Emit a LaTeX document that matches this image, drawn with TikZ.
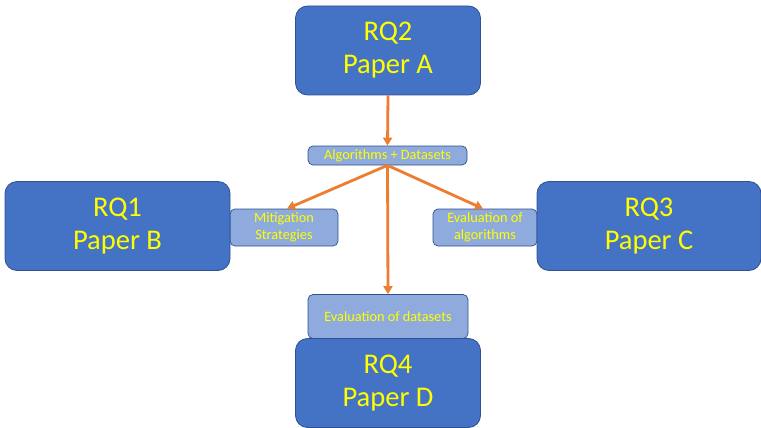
\documentclass[tikz,border=0pt]{standalone}
\usepackage{fontspec}
\setmainfont{Carlito}
\usetikzlibrary{arrows.meta}
\definecolor{bigfill}{HTML}{4472C4}
\definecolor{smallfill}{HTML}{8FAADC}
\definecolor{edgeblue}{HTML}{2F528F}
\definecolor{txtyellow}{HTML}{FFFF00}
\definecolor{arrorange}{HTML}{ED7D31}
\tikzset{
  bigbox/.style={draw=edgeblue, line width=0.8pt, fill=bigfill, rounded corners=12pt,
    inner sep=0pt, align=center, text=txtyellow,
    font=\fontsize{28.5}{33}\selectfont},
  smallbox/.style={draw=edgeblue, line width=0.7pt, fill=smallfill, rounded corners=5pt,
    inner sep=0pt, align=center, text=txtyellow,
    font=\fontsize{14.3}{16.5}\selectfont},
  conn/.style={draw=arrorange, line width=2.8pt, -{Triangle[length=8pt,width=9pt]}}
}
\begin{document}
\begin{tikzpicture}[x=1pt,y=-1pt]
\useasboundingbox (0,0) rectangle (761,428);
% small boxes first (behind big boxes)
\node[smallbox, minimum width=159pt, minimum height=19pt] (alg) at (387.5,155.5) {Algorithms + Datasets};
\node[smallbox, minimum width=108pt, minimum height=37pt] (mit) at (284,227.5) {Mitigation\\Strategies};
\node[smallbox, minimum width=104pt, minimum height=37pt] (eva) at (485,227.5) {Evaluation of\\algorithms};
\node[smallbox, minimum width=160pt, minimum height=44pt] (evd) at (388,316.5) {Evaluation of datasets};
% big boxes
\node[bigbox, minimum width=185pt, minimum height=89pt] (rq2) at (388,50.5) {RQ2\\Paper A};
\node[bigbox, minimum width=225pt, minimum height=89pt] (rq1) at (117.5,226) {RQ1\\Paper B};
\node[bigbox, minimum width=224pt, minimum height=89pt] (rq3) at (649,226) {RQ3\\Paper C};
\node[bigbox, minimum width=185pt, minimum height=89pt] (rq4) at (388,383) {RQ4\\Paper D};
% connectors
\draw[conn] (rq2.south) -- (alg.north);
\draw[conn] (alg.south) -- ([xshift=3pt]mit.north);
\draw[conn] (alg.south) -- ([xshift=-2pt]eva.north);
\draw[conn] (alg.south) -- (evd.north);
\end{tikzpicture}
\end{document}
